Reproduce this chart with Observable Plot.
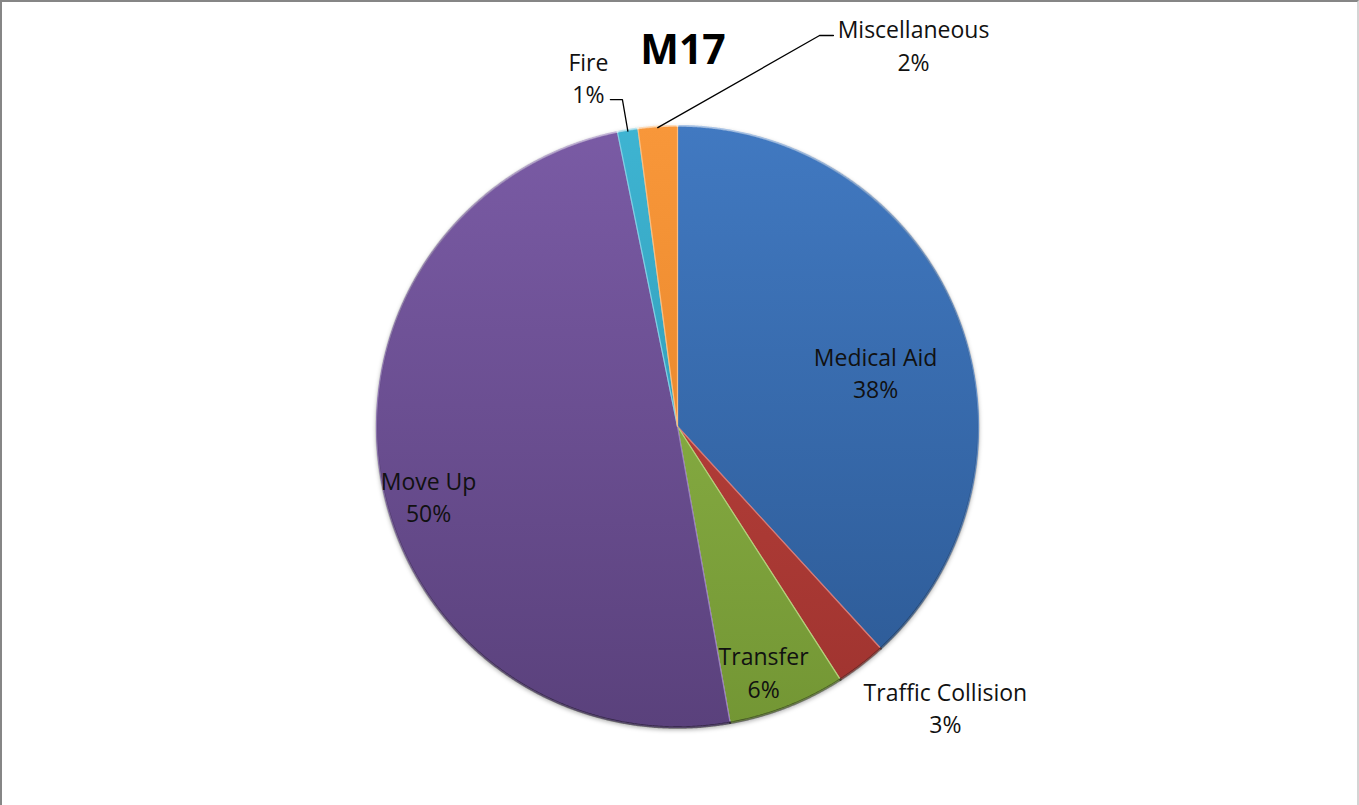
<!DOCTYPE html>
<html><head><meta charset="utf-8">
<script src="https://cdn.jsdelivr.net/npm/d3@7"></script>
<script src="https://cdn.jsdelivr.net/npm/@observablehq/plot@0.6"></script>
<style>
body{margin:0;background:#fff;}
#chart{position:absolute;left:0;top:0;}
#frame{position:absolute;left:0;top:0;width:1359px;height:830px;border-left:2px solid #868686;border-top:2px solid #868686;border-right:2px solid #d4d4d4;box-sizing:border-box;pointer-events:none;}
</style></head><body><div id="chart"></div><div id="frame"></div>
<script>
// ---- data ----
const title = "M17";
const categories = ["Medical Aid", "Traffic Collision", "Transfer", "Move Up", "Fire", "Miscellaneous"];
const values = [38.2, 2.7, 6.3, 49.6, 1.1, 2.1];
const pctLabels = ["38%", "3%", "6%", "50%", "1%", "2%"];

// ---- styling / layout (not data) ----
const topColors = ["#4179c1", "#c4463f", "#93bb4c", "#7a5ba5", "#3eb4d2", "#f8973a"];
const botColors = ["#2c5994", "#9e332f", "#739634", "#5a417c", "#2a8ea8", "#e07e22"];
const edgeColors = ["#6a98d4", "#d97a74", "#b3d37b", "#9a80be", "#7fd0e4", "#fbbd7f"];
// label anchors in pie-radius units (centre = 0,0; y up)
const labelPos = {
  "Medical Aid": [0.658, 0.183],
  "Traffic Collision": [0.890, -0.930],
  "Transfer": [0.286, -0.811],
  "Move Up": [-0.827, -0.229],
  "Fire": [-0.296, 1.163],
  "Miscellaneous": [0.784, 1.272]
};
// leader lines: label end, elbow (units); third point = slice rim
const leaders = {
  "Fire": [[-0.223, 1.086], [-0.183, 1.086]],
  "Miscellaneous": [[0.518, 1.299], [0.472, 1.299]]
};

const W = 1359, H = 805, CX = 677, CY = 426, R = 301;

// ---- geometry from data ----
const total = d3.sum(values);
let acc = 0;
const slices = categories.map((c, i) => {
  const a0 = acc / total * 2 * Math.PI;
  acc += values[i];
  const a1 = acc / total * 2 * Math.PI;
  return {cat: c, i, a0, a1, mid: (a0 + a1) / 2};
});
const polyRows = [];
const rimRows = [];
for (const s of slices) {
  polyRows.push({cat: s.cat, i: s.i, x: 0, y: 0});
  const n = Math.max(4, Math.ceil((s.a1 - s.a0) / 0.004));
  for (let k = 0; k <= n; k++) {
    const a = s.a0 + (s.a1 - s.a0) * k / n;
    polyRows.push({cat: s.cat, i: s.i, x: Math.sin(a), y: Math.cos(a)});
    rimRows.push({cat: s.cat, i: s.i, x: Math.sin(a), y: Math.cos(a)});
  }
  polyRows.push({cat: s.cat, i: s.i, x: 0, y: 0});
}
const labelRows = slices.map(s => ({
  cat: s.cat, x: labelPos[s.cat][0], y: labelPos[s.cat][1],
  text: s.cat + "\n" + pctLabels[s.i]
}));
const leaderRows = [];
for (const s of slices) {
  if (!leaders[s.cat]) continue;
  for (const p of leaders[s.cat]) leaderRows.push({cat: s.cat, x: p[0], y: p[1]});
  leaderRows.push({cat: s.cat, x: 0.995 * Math.sin(s.mid), y: 0.995 * Math.cos(s.mid)});
}

const defsMark = (index, scales) => {
  const g = d3.create("svg:g");
  const defs = g.append("defs");
  slices.forEach(s => {
    const lg = defs.append("linearGradient").attr("id", "g" + s.i)
      .attr("gradientUnits", "userSpaceOnUse")
      .attr("x1", 0).attr("x2", 0)
      .attr("y1", scales.y(1)).attr("y2", scales.y(-1));
    lg.append("stop").attr("offset", "0%").attr("stop-color", topColors[s.i]);
    lg.append("stop").attr("offset", "100%").attr("stop-color", botColors[s.i]);
  });
  const rim = defs.append("linearGradient").attr("id", "rim")
    .attr("gradientUnits", "userSpaceOnUse")
    .attr("x1", 0).attr("x2", 0)
    .attr("y1", scales.y(1)).attr("y2", scales.y(-1));
  rim.append("stop").attr("offset", "0%").attr("stop-color", "#ffffff").attr("stop-opacity", 0.45);
  rim.append("stop").attr("offset", "45%").attr("stop-color", "#000000").attr("stop-opacity", 0.05);
  rim.append("stop").attr("offset", "100%").attr("stop-color", "#000000").attr("stop-opacity", 0.45);
  return g.node();
};

const chart = Plot.plot({
  width: W, height: H,
  marginTop: 0, marginRight: 0, marginBottom: 0, marginLeft: 0,
  x: {domain: [-CX / R, (W - CX) / R], axis: null},
  y: {domain: [-(H - CY) / R, CY / R], axis: null},
  color: {type: "identity"},
  style: {fontFamily: "'Open Sans', Lato, sans-serif", background: "transparent"},
  marks: [
    defsMark,
    Plot.line(polyRows, {x: "x", y: "y", z: "cat", curve: "linear",
      fill: d => "url(#g" + d.i + ")", stroke: d => edgeColors[d.i], strokeWidth: 1.2, strokeLinejoin: "round"}),
    Plot.line(rimRows, {x: "x", y: "y", z: "cat", stroke: "url(#rim)", strokeWidth: 2.5}),
    Plot.line(leaderRows, {x: "x", y: "y", z: "cat", stroke: "#000", strokeWidth: 1.3}),
    Plot.text(labelRows, {x: "x", y: "y", text: "text", fontSize: 23, lineHeight: 1.43, fill: "#111"}),
    Plot.text([title], {frameAnchor: "top", text: d => d, dx: 3, dy: 50, lineAnchor: "middle",
      fontSize: 41, fontWeight: "bold", fill: "#000"})
  ]
});
const pieG = chart.querySelector('g[aria-label="line"]');
if (pieG) pieG.style.filter = "drop-shadow(0px 2px 2px rgba(0,0,0,0.3))";
document.getElementById("chart").append(chart);
</script></body></html>
